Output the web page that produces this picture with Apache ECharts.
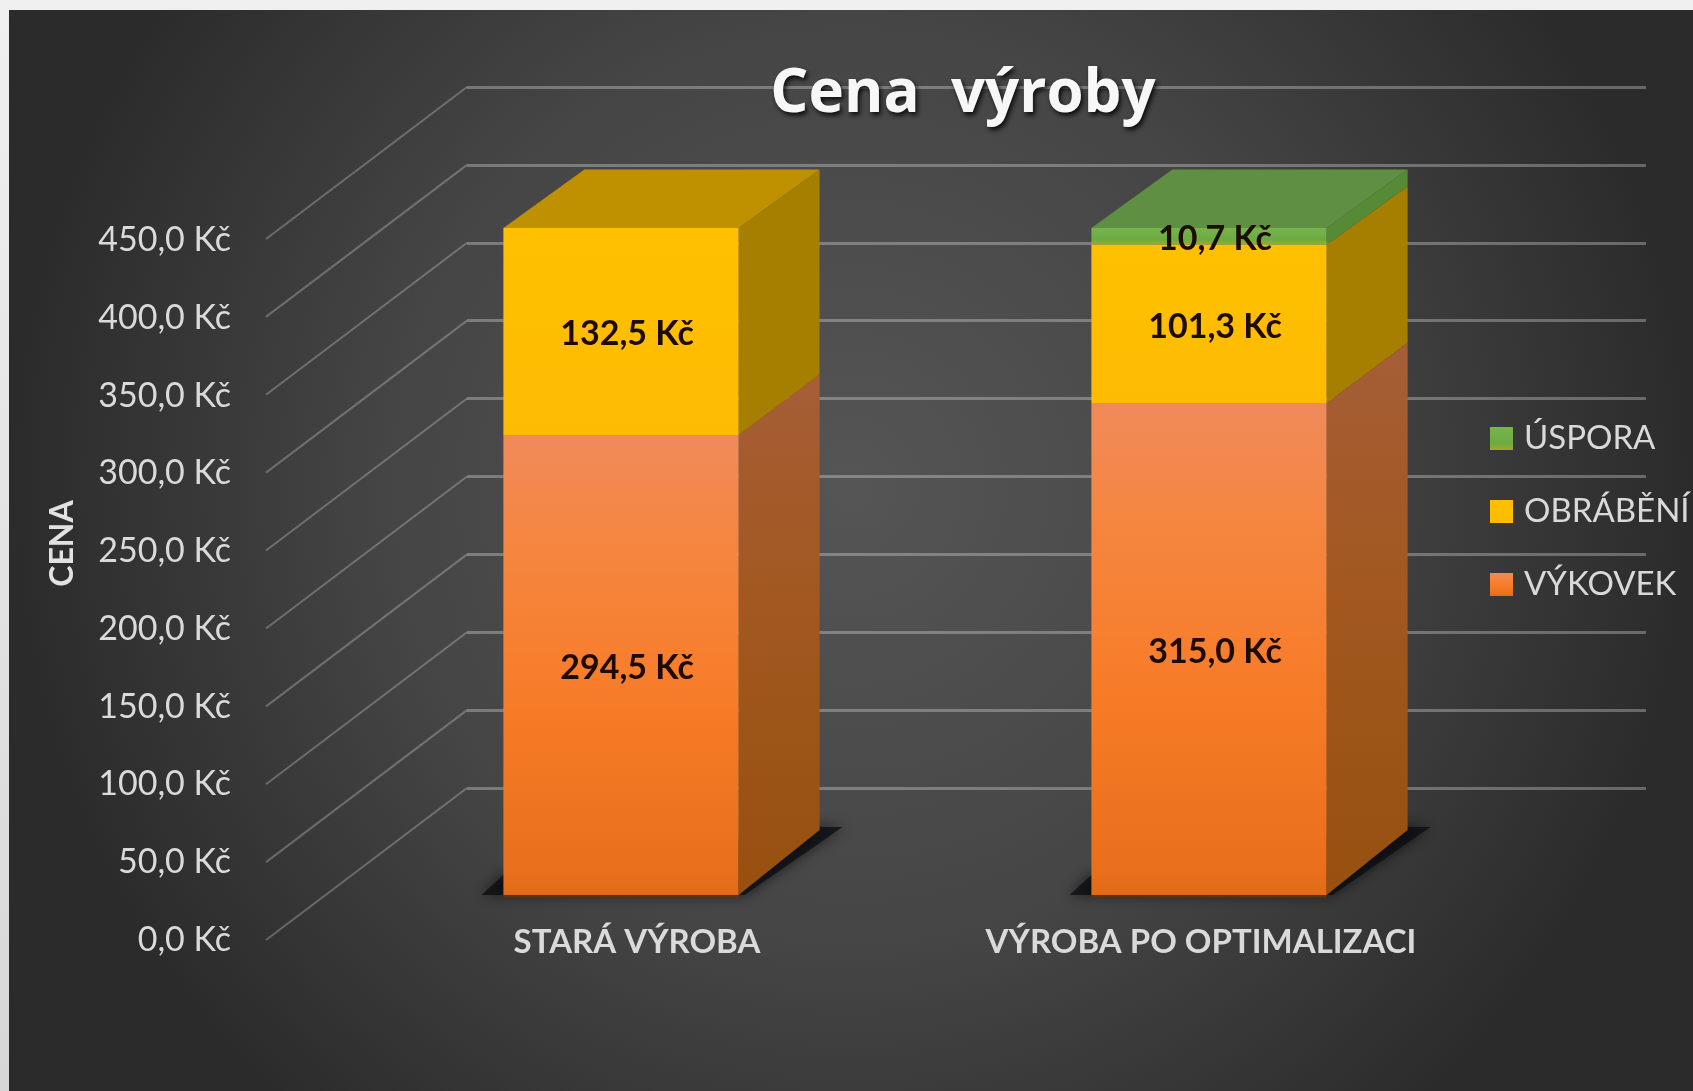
<!DOCTYPE html>
<html>
<head>
<meta charset="utf-8">
<title>Cena výroby</title>
<style>
html, body { margin: 0; padding: 0; background: #eeeeee; }
#chart { width: 1693px; height: 1091px; }
</style>
<script src="https://cdn.jsdelivr.net/npm/echarts@6/dist/echarts.min.js"></script>
</head>
<body>
<div id="chart"></div>
<script>
var categories = ['STARÁ VÝROBA', 'VÝROBA PO OPTIMALIZACI'];
var vykovek = [294.5, 315.0];
var obrabeni = [132.5, 101.3];
var uspora = [null, 10.7];
var yTicks = [0, 50, 100, 150, 200, 250, 300, 350, 400, 450];
var legendNames = ['ÚSPORA', 'OBRÁBĚNÍ', 'VÝKOVEK'];

var LABEL_FONT = 'Lato';
var DEPTH_X = 81;       // hloubka sloupce
var WALL_X = 201, WALL_Y = 152;

function kc(v){
    return v.toFixed(1).replace('.', ',') + ' Kč';
}
function vGrad(stops){
    var res = [];
    for(var i=0; i<stops.length; i++){
        res.push({offset: stops[i][0], color: stops[i][1]});
    }
    return new echarts.graphic.LinearGradient(0, 0, 0, 1, res);
}

var orangeFront = vGrad([[0, '#f08a5a'], [0.25, '#f5863f'], [0.6, '#f77b27'], [0.95, '#e96f1c'], [1, '#e26a18']]);
var yellowFront = vGrad([[0, '#ffc000'], [1, '#fdbb02']]);
var greenFront = vGrad([[0, '#77b44c'], [0.7, '#6cab42'], [1, '#a3a82c']]);

// kolik zabere bocni plocha - zadni hrana je o neco nizsi nez predni
function backY(y, y0){
    return y - 65 + (y0 - y) * 0.01;
}

// boky, vrsek a stin jednoho sloupce
function renderBox(params, api){
    var i = api.value(0);
    var bandW = api.size([1, 0])[0];
    var w = bandW * 0.4;
    var cx = api.coord([i, 0])[0];
    var l = cx - w / 2, r = cx + w / 2;
    var y0 = api.coord([i, 0])[1];
    var children = [];

    // stin na podlaze
    children.push({
        type: 'polygon',
        shape: {points: [[l - 22, y0], [l, y0 - 20], [r + 82, y0 - 68], [r + 104, y0 - 68], [r + 6, y0]]},
        style: {fill: 'rgba(8,10,14,0.7)', shadowBlur: 14, shadowColor: 'rgba(0,0,0,0.85)'},
        silent: true
    });

    var parts = [
        {v: vykovek[i], side: vGrad([[0, '#a55e37'], [0.45, '#a2581f'], [1, '#96500f']])},
        {v: obrabeni[i], side: '#a67f00'},
        {v: uspora[i], side: '#578a36'}
    ];
    var sum = 0, topColor = '#bf9000';
    for(var k=0; k<parts.length; k++){
        if(!parts[k].v) continue;
        var y1 = api.coord([i, sum])[1];
        sum += parts[k].v;
        var y2 = api.coord([i, sum])[1];
        children.push({
            type: 'polygon',
            shape: {points: [[r, y1], [r + DEPTH_X, backY(y1, y0)], [r + DEPTH_X, backY(y2, y0)], [r, y2]]},
            style: {fill: parts[k].side}
        });
        if(k === 2) topColor = '#5f8f42';
    }
    var yt = api.coord([i, sum])[1];
    children.push({
        type: 'polygon',
        shape: {points: [[l, yt], [l + DEPTH_X, backY(yt, y0)], [r + DEPTH_X, backY(yt, y0)], [r, yt]]},
        style: {fill: topColor}
    });
    // tmava linka u paty sloupce
    children.push({
        type: 'line',
        shape: {x1: l, y1: y0 + 1, x2: r, y2: y0 + 1},
        style: {stroke: '#5e3413', lineWidth: 3}
    });
    return {type: 'group', children: children};
}

// sikme cary zadni steny, zacinaji od popisku osy
function renderWall(params, api){
    var p = api.coord([0, api.value(1)]);
    return {
        type: 'line',
        shape: {x1: p[0], y1: p[1], x2: p[0] - WALL_X, y2: p[1] + WALL_Y},
        style: {stroke: 'rgba(255,255,255,0.25)', lineWidth: 2}
    };
}

function barSeries(name, data, color){
    return {
        name: name,
        type: 'bar',
        stack: 'cena',
        xAxisIndex: 1,
        yAxisIndex: 1,
        barWidth: '40%',
        itemStyle: {color: color},
        z: 4,
        label: {
            show: true,
            position: 'inside',
            offset: [6, 3],
            formatter: function(p){ return p.value == null ? '' : kc(p.value); },
            color: '#1d0c02',
            fontFamily: LABEL_FONT,
            fontWeight: 'bold',
            fontSize: 34
        },
        data: data
    };
}

var chart = echarts.init(document.getElementById('chart'));
var option = {
    backgroundColor: new echarts.graphic.LinearGradient(0, 0, 0, 1, [
        {offset: 0, color: '#f0f0f0'},
        {offset: 1, color: '#d6d6d6'}
    ]),
    animation: false,
    graphic: [{
        type: 'rect',
        z: -10,
        silent: true,
        shape: {x: 9, y: 10, width: 1684, height: 1081},
        style: {
            fill: new echarts.graphic.RadialGradient(0.5, 0.44, 0.78, [
                {offset: 0, color: '#555555'},
                {offset: 0.55, color: '#454545'},
                {offset: 1, color: '#2b2b2b'}
            ])
        }
    }],
    title: {
        text: 'Cena  výroby',
        left: 958,
        top: 60,
        textAlign: 'center',
        textStyle: {
            color: '#f7f7f7',
            fontFamily: 'Open Sans',
            fontWeight: 'bold',
            fontSize: 60,
            textShadowColor: 'rgba(0,0,0,0.85)',
            textShadowBlur: 5,
            textShadowOffsetX: 2,
            textShadowOffsetY: 3
        }
    },
    legend: {
        orient: 'vertical',
        left: 1485,
        top: 417,
        itemWidth: 23,
        itemHeight: 23,
        itemGap: 40,
        icon: 'rect',
        data: legendNames,
        textStyle: {color: '#d9d9d9', fontFamily: LABEL_FONT, fontSize: 33, padding: [0, 0, 0, 6]}
    },
    grid: [
        // osa s popisky
        {left: 355, width: 1128, top: 240, height: 700},
        // sloupce
        {left: 327, width: 1176, top: 192, height: 703},
        // zadni stena
        {left: 467, width: 1179, top: 87, height: 701}
    ],
    xAxis: [
        {
            gridIndex: 0,
            type: 'category',
            data: categories,
            axisLine: {show: false},
            axisTick: {show: false},
            axisLabel: {
                color: '#dadada',
                fontFamily: LABEL_FONT,
                fontWeight: 'bold',
                fontSize: 33,
                margin: -14,
                verticalAlign: 'top'
            }
        },
        {
            gridIndex: 1,
            type: 'category',
            data: categories,
            axisLine: {show: false},
            axisTick: {show: false},
            axisLabel: {show: false}
        },
        {gridIndex: 2, type: 'value', min: 0, max: 1, show: false}
    ],
    yAxis: [
        {
            gridIndex: 0,
            type: 'value',
            min: 0,
            max: 450,
            interval: 50,
            axisLine: {show: false},
            axisTick: {show: false},
            splitLine: {show: false},
            axisLabel: {
                color: '#dadada',
                fontFamily: LABEL_FONT,
                fontSize: 34,
                margin: 124,
                formatter: function(v){ return kc(v); }
            }
        },
        {
            gridIndex: 1,
            type: 'value',
            min: 0,
            max: 450,
            interval: 50,
            name: 'CENA',
            nameLocation: 'middle',
            nameGap: 248,
            nameTextStyle: {color: '#e2e2e2', fontFamily: LABEL_FONT, fontWeight: 'bold', fontSize: 32},
            axisLine: {show: false},
            axisTick: {show: false},
            axisLabel: {show: false},
            splitLine: {show: false}
        },
        {
            gridIndex: 2,
            type: 'value',
            min: 0,
            max: 450,
            interval: 50,
            axisLine: {show: false},
            axisTick: {show: false},
            axisLabel: {show: false},
            splitLine: {show: true, lineStyle: {color: 'rgba(255,255,255,0.29)', width: 3}}
        }
    ],
    series: [
        {
            type: 'custom',
            xAxisIndex: 2,
            yAxisIndex: 2,
            z: 1,
            silent: true,
            renderItem: renderWall,
            data: yTicks.map(function(v){ return [0, v]; })
        },
        {
            type: 'custom',
            xAxisIndex: 1,
            yAxisIndex: 1,
            z: 3,
            silent: true,
            renderItem: renderBox,
            data: categories.map(function(c, i){ return [i]; })
        },
        barSeries('VÝKOVEK', vykovek, orangeFront),
        barSeries('OBRÁBĚNÍ', obrabeni, yellowFront),
        barSeries('ÚSPORA', uspora, greenFront)
    ]
};
chart.setOption(option);
</script>
</body>
</html>
